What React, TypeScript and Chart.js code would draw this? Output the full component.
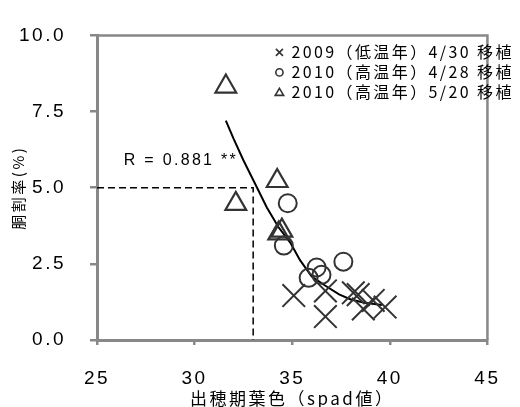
import { useEffect, useRef } from 'react';
import { Chart, registerables } from 'chart.js';

Chart.register(...registerables);

// 2009 (low-temperature year), transplanted 4/30
const crossX = [35.08, 36.7, 36.7, 38.13, 38.38, 38.64, 39.15, 39.76];
const crossY = [1.46, 1.61, 0.77, 1.55, 1.49, 1.02, 1.3, 1.08];

// 2010 (high-temperature year), transplanted 4/28
const circleX = [34.77, 34.57, 36.25, 36.5, 35.84, 37.62];
const circleY = [4.49, 3.1, 2.38, 2.14, 2.04, 2.57];

// 2010 (high-temperature year), transplanted 5/20
const triX = [31.6, 32.11, 34.23, 34.31, 34.47];
const triY = [8.32, 4.47, 5.22, 3.5, 3.59];

// fitted curve
const fitX = [31.6, 32.0, 32.5, 33.2, 33.7, 34.3, 34.9, 35.4, 36.0, 36.7, 37.4, 38.0, 38.7, 39.6];
const fitY = [7.2, 6.6, 5.9, 5.0, 4.35, 3.7, 3.2, 2.62, 2.08, 1.78, 1.5, 1.33, 1.22, 1.15];

// reading guide at 5 %
const guideX = [25, 33, 33];
const guideY = [5, 5, 0];

const legendLabels = [
  '2009（低温年）4/30 移植',
  '2010（高温年）4/28 移植',
  '2010（高温年）5/20 移植',
];
const legendMarks = ['cross', 'circle', 'triangle'];

const xTitle = '出穂期葉色（spad値）';
const yTitle = '胴割率(%)';
const rLabel = 'R = 0.881 **';

const xMin = 25, xMax = 45, xStep = 5;
const yMin = 0, yMax = 10, yStep = 2.5;

const pts = (xs: number[], ys: number[]) => xs.map((x, i) => ({ x, y: ys[i] }));

const MARK = '#333333';
const AXIS = '#888888';

function drawMark(ctx: CanvasRenderingContext2D, kind: string, x: number, y: number) {
  ctx.save();
  ctx.strokeStyle = MARK;
  ctx.lineWidth = 1.6;
  ctx.beginPath();
  if (kind === 'cross') {
    ctx.moveTo(x - 3.5, y - 3.5);
    ctx.lineTo(x + 3.5, y + 3.5);
    ctx.moveTo(x + 3.5, y - 3.5);
    ctx.lineTo(x - 3.5, y + 3.5);
  } else if (kind === 'circle') {
    ctx.arc(x, y, 3.6, 0, Math.PI * 2);
  } else {
    ctx.moveTo(x, y - 4);
    ctx.lineTo(x + 4.2, y + 3);
    ctx.lineTo(x - 4.2, y + 3);
    ctx.closePath();
  }
  ctx.stroke();
  ctx.restore();
}

const spacingPlugin = {
  id: 'textSpacing',
  beforeDraw(chart: any) {
    chart.ctx.letterSpacing = '2.5px';
  },
  afterDraw(chart: any) {
    chart.ctx.letterSpacing = '0px';
  },
};

const framePlugin = {
  id: 'frame',
  beforeDatasetsDraw(chart: any) {
    const { ctx, chartArea: a } = chart;
    ctx.save();
    ctx.strokeStyle = AXIS;
    ctx.lineWidth = 2.5;
    ctx.beginPath();
    ctx.moveTo(a.left, a.top);
    ctx.lineTo(a.right, a.top);
    ctx.lineTo(a.right, a.bottom);
    ctx.stroke();
    ctx.restore();
  },
};

const notesPlugin = {
  id: 'notes',
  afterDraw(chart: any) {
    const { ctx, chartArea: a, scales } = chart;
    ctx.save();
    ctx.fillStyle = '#000';
    ctx.textBaseline = 'middle';
    ctx.textAlign = 'left';

    ctx.font = '16px "Liberation Sans", Arial, sans-serif';
    ctx.letterSpacing = '2.3px';
    ctx.fillText(rLabel, scales.x.getPixelForValue(26.37), scales.y.getPixelForValue(5.88));

    ctx.font = '16px "Noto Sans CJK JP", sans-serif';
    ctx.letterSpacing = '2.4px';
    legendLabels.forEach((label, i) => {
      const y = a.top + 17 + i * 20;
      drawMark(ctx, legendMarks[i], a.right - 208, y);
      ctx.fillText(label, a.right - 196, y);
    });
    ctx.restore();
  },
};

export default function App() {
  const ref = useRef<HTMLCanvasElement>(null);

  useEffect(() => {
    if (!ref.current) return;
    const chart = new Chart(ref.current, {
      type: 'scatter',
      data: {
        datasets: [
          {
            label: legendLabels[0],
            data: pts(crossX, crossY),
            pointStyle: 'crossRot',
            pointRadius: 16,
            pointBorderWidth: 2,
            borderColor: MARK,
            backgroundColor: 'transparent',
          },
          {
            label: legendLabels[1],
            data: pts(circleX, circleY),
            pointStyle: 'circle',
            pointRadius: 9,
            pointBorderWidth: 2,
            borderColor: MARK,
            backgroundColor: 'transparent',
          },
          {
            label: legendLabels[2],
            data: pts(triX, triY),
            pointStyle: 'triangle',
            pointRadius: 12,
            pointBorderWidth: 2.2,
            borderColor: MARK,
            backgroundColor: 'transparent',
          },
          {
            label: 'fit',
            data: pts(fitX, fitY),
            showLine: true,
            pointRadius: 0,
            borderColor: '#000',
            borderWidth: 2,
            tension: 0,
          },
          {
            label: 'guide',
            data: pts(guideX, guideY),
            showLine: true,
            pointRadius: 0,
            borderColor: '#000',
            borderWidth: 1.5,
            borderDash: [7, 4],
            clip: false,
          },
        ],
      },
      options: {
        responsive: false,
        animation: false,
        devicePixelRatio: 1,
        layout: { padding: { top: 17, right: 30, left: 0, bottom: 0 } },
        plugins: {
          legend: { display: false },
          tooltip: { enabled: false },
        },
        scales: {
          x: {
            type: 'linear',
            min: xMin,
            max: xMax,
            afterFit: (s: any) => { s.height = 67; },
            border: { color: AXIS, width: 3 },
            grid: { drawOnChartArea: false, drawTicks: true, tickLength: 5, color: AXIS, lineWidth: 2.5 },
            ticks: {
              stepSize: xStep,
              padding: 22,
              color: '#000',
              font: { family: '"Liberation Sans", Arial, sans-serif', size: 19 },
            },
            title: {
              display: true,
              text: xTitle,
              color: '#000',
              padding: { top: 0, bottom: 0 },
              font: { family: '"Noto Sans CJK JP", sans-serif', size: 17, lineHeight: 1 },
            },
          },
          y: {
            type: 'linear',
            min: yMin,
            max: yMax,
            afterFit: (s: any) => { s.width = 97; },
            border: { color: AXIS, width: 3 },
            grid: { drawOnChartArea: false, drawTicks: true, tickLength: 7, color: AXIS, lineWidth: 2.5 },
            ticks: {
              stepSize: yStep,
              padding: 24,
              color: '#000',
              font: { family: '"Liberation Sans", Arial, sans-serif', size: 19 },
              callback: (v: any) => Number(v).toFixed(1),
            },
            title: {
              display: true,
              text: yTitle,
              color: '#000',
              padding: { top: 9, bottom: 0 },
              font: { family: '"Noto Sans CJK JP", sans-serif', size: 15, lineHeight: 1.2 },
            },
          },
        },
      },
      plugins: [spacingPlugin, framePlugin, notesPlugin],
    });
    return () => chart.destroy();
  }, []);

  return (
    <div style={{ position: 'fixed', left: 0, top: 0, width: 520, height: 407, background: '#fff' }}>
      <canvas ref={ref} width={520} height={407} />
    </div>
  );
}
